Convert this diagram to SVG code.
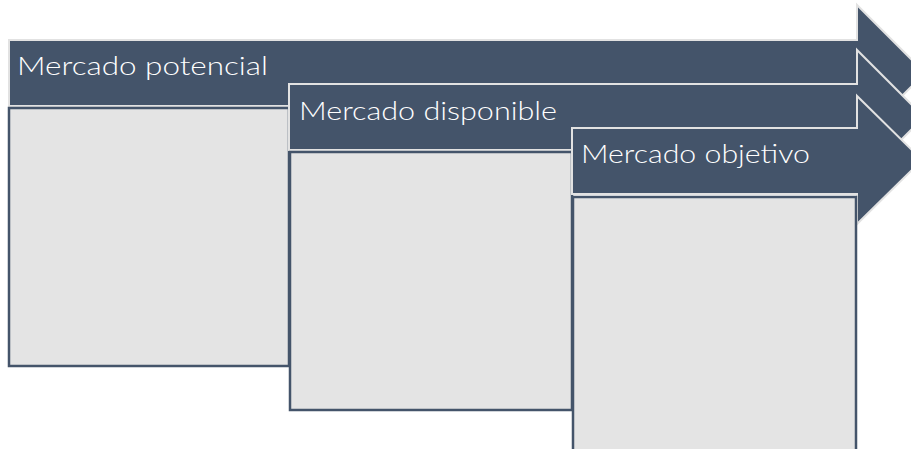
<svg xmlns="http://www.w3.org/2000/svg" width="911" height="449" viewBox="0 0 911 449">
<style>
.hdr{fill:#44546a;stroke:#e2e2e2;stroke-width:2;stroke-linejoin:miter}
.box{fill:#e4e4e4;stroke:#44546a;stroke-width:2.5}
.lbl{font-family:Lato,"DejaVu Sans","Liberation Sans",sans-serif;font-weight:300;font-size:26px;fill:#ffffff}
</style>
<rect width="911" height="449" fill="#ffffff"/>
<g id="connectors"></g>
<g id="node-potencial">
<path class="hdr" d="M9,40 H857 V5 L925,73 L857,141 V106 H9 Z"/>
<text class="lbl" x="17" y="75" textLength="251" lengthAdjust="spacingAndGlyphs">Mercado potencial</text>
<rect class="box" x="9" y="108" width="280" height="258"/>
</g>
<g id="node-disponible">
<path class="hdr" d="M289,84 H857 V50 L924,117 L857,184 V150 H289 Z"/>
<text class="lbl" x="299" y="120" textLength="258" lengthAdjust="spacingAndGlyphs">Mercado disponible</text>
<rect class="box" x="290" y="152" width="282" height="258"/>
</g>
<g id="node-objetivo">
<path class="hdr" d="M572,128 H857 V96 L922,160 L857,224 V194 H572 Z"/>
<text class="lbl" x="581" y="163" textLength="229" lengthAdjust="spacingAndGlyphs">Mercado objetivo</text>
<rect class="box" x="573" y="197" width="283" height="262"/>
</g>
</svg>
